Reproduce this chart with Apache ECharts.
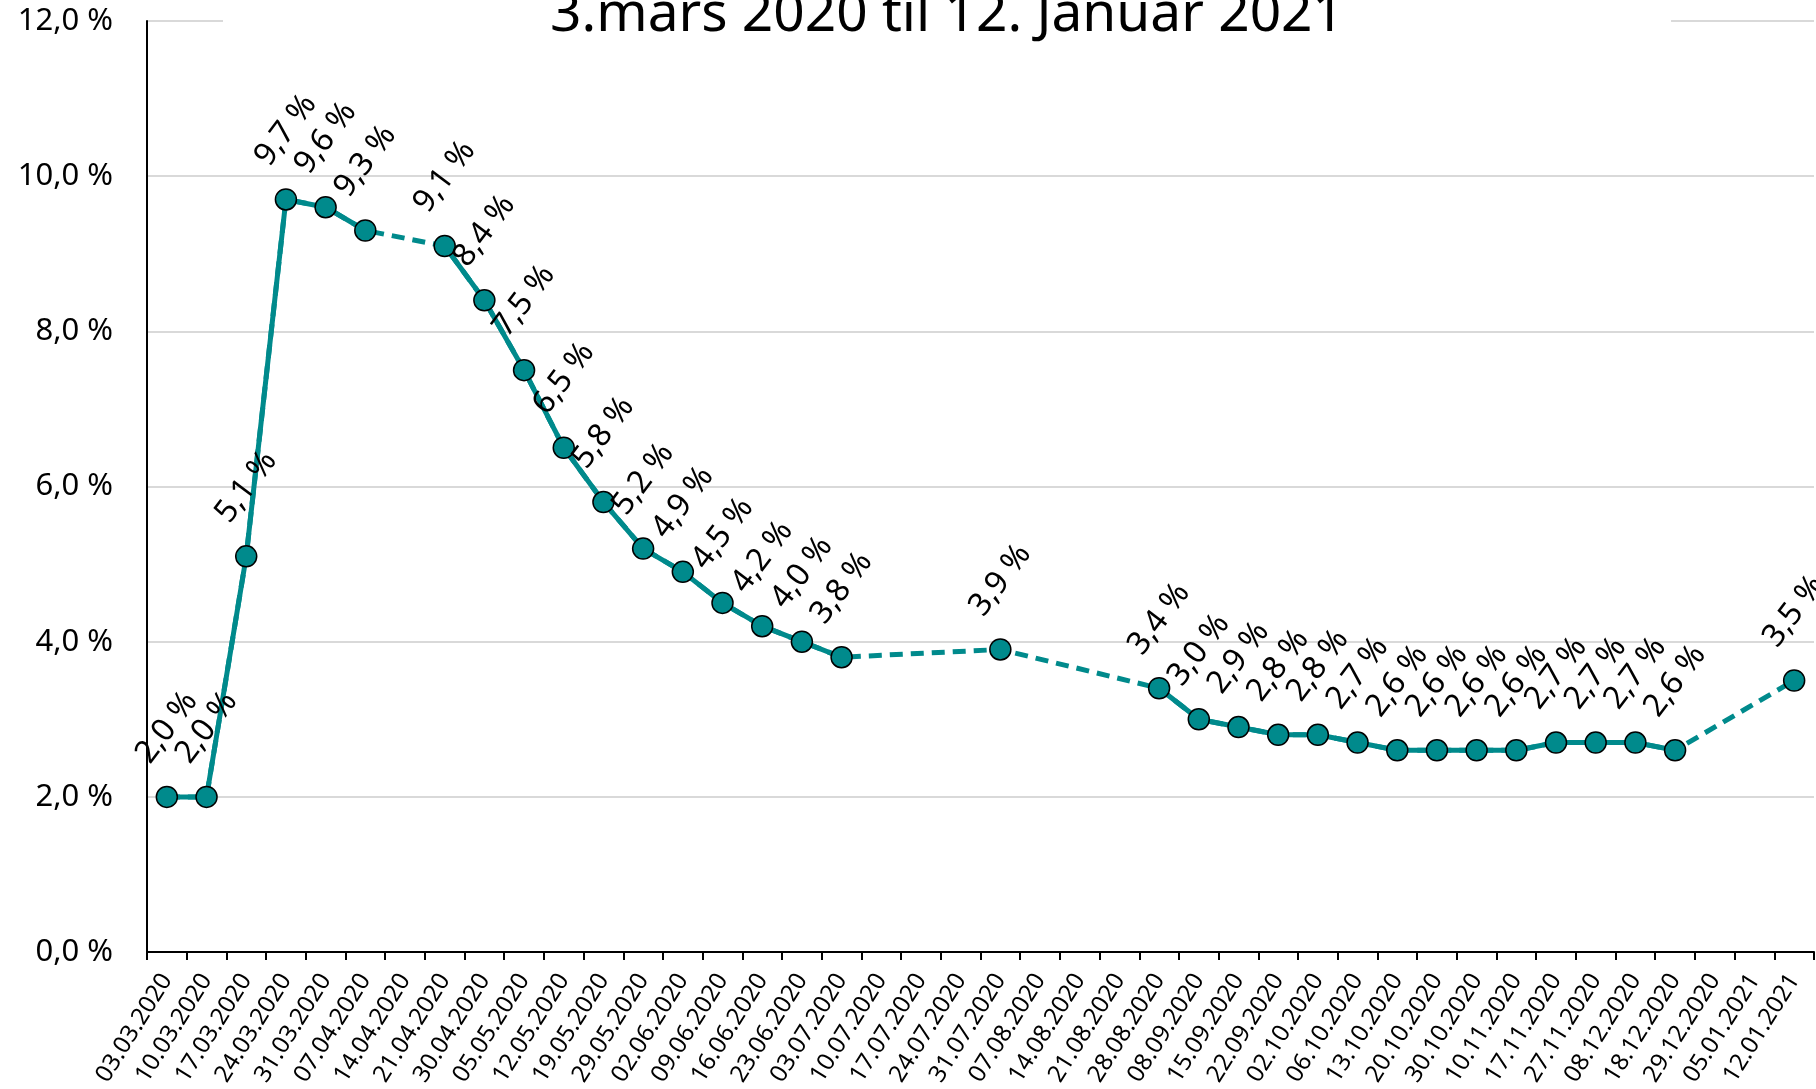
<!DOCTYPE html>
<html>
<head>
<meta charset="utf-8">
<script src="https://cdn.jsdelivr.net/npm/echarts@6/dist/echarts.min.js"></script>
<style>
html,body{margin:0;padding:0;background:#fff;}
#c{width:1816px;height:1089px;}
</style>
</head>
<body>
<div id="c"></div>
<script>
var titleText = '3.mars 2020 til 12. Januar 2021';
var categories = ['03.03.2020','10.03.2020','17.03.2020','24.03.2020','31.03.2020','07.04.2020','14.04.2020','21.04.2020','30.04.2020','05.05.2020','12.05.2020','19.05.2020','29.05.2020','02.06.2020','09.06.2020','16.06.2020','23.06.2020','03.07.2020','10.07.2020','17.07.2020','24.07.2020','31.07.2020','07.08.2020','14.08.2020','21.08.2020','28.08.2020','08.09.2020','15.09.2020','22.09.2020','02.10.2020','06.10.2020','13.10.2020','20.10.2020','30.10.2020','10.11.2020','17.11.2020','27.11.2020','08.12.2020','18.12.2020','29.12.2020','05.01.2021','12.01.2021'];
var values = [2.0,2.0,5.1,9.7,9.6,9.3,null,9.1,8.4,7.5,6.5,5.8,5.2,4.9,4.5,4.2,4.0,3.8,null,null,null,3.9,null,null,null,3.4,3.0,2.9,2.8,2.8,2.7,2.6,2.6,2.6,2.6,2.7,2.7,2.7,2.6,null,null,3.5];
var yTicks = {min:0, max:12, interval:2};

var FONT = 'Noto Sans';
var TEAL = '#008A8C';
function pct(v){ return Number(v).toFixed(1).replace('.', ',') + ' %'; }

var chart = echarts.init(document.getElementById('c'), null, {renderer:'canvas'});
chart.setOption({
  animation: false,
  backgroundColor: '#fff',
  title: {
    text: titleText,
    left: 223,
    top: -13,
    padding: [0, 327],
    backgroundColor: '#fff',
    z: 10,
    textStyle: {fontFamily: FONT, fontSize: 55, lineHeight: 56, fontWeight: 'normal', color: '#000'}
  },
  grid: {left: 147, right: 2, top: 21, bottom: 136, containLabel: false},
  xAxis: {
    type: 'category',
    data: categories,
    boundaryGap: true,
    axisLine: {show: true, lineStyle: {color: '#000', width: 2}},
    axisTick: {show: true, alignWithLabel: false, length: 8, lineStyle: {color: '#000', width: 2}},
    axisLabel: {interval: 0, rotate: 58, margin: 24, fontFamily: FONT, fontSize: 24, color: '#000'},
    splitLine: {show: false}
  },
  yAxis: {
    type: 'value',
    min: yTicks.min, max: yTicks.max, interval: yTicks.interval,
    axisLine: {show: true, lineStyle: {color: '#000', width: 2}},
    axisTick: {show: false},
    axisLabel: {margin: 34, fontFamily: FONT, fontSize: 31, color: '#000', formatter: function(v){ return pct(v); }},
    splitLine: {show: true, lineStyle: {color: '#d9d9d9', width: 2}}
  },
  series: [
    {
      type: 'line',
      data: values,
      connectNulls: true,
      symbol: 'none',
      silent: true,
      z: 1,
      lineStyle: {color: TEAL, width: 5, type: [13, 8]},
      label: {show: false}
    },
    {
      type: 'line',
      data: values,
      connectNulls: false,
      symbol: 'circle',
      symbolSize: 21,
      z: 3,
      lineStyle: {color: TEAL, width: 5},
      itemStyle: {color: TEAL, borderColor: '#000', borderWidth: 1.5},
      label: {
        show: true,
        position: 'top',
        distance: 58,
        rotate: 53,
        align: 'center',
        verticalAlign: 'middle',
        fontFamily: FONT,
        fontSize: 32,
        color: '#000',
        formatter: function(p){ return pct(p.value); }
      }
    }
  ]
});
</script>
</body>
</html>
